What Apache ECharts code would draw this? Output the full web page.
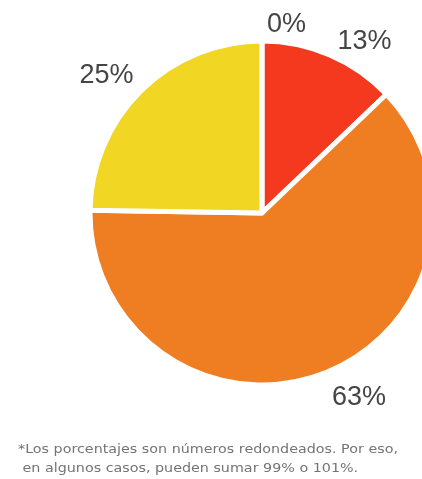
<!DOCTYPE html>
<html>
<head>
<meta charset="utf-8">
<script src="https://cdn.jsdelivr.net/npm/echarts@6/dist/echarts.min.js"></script>
<style>
  html, body { margin: 0; padding: 0; background: #ffffff; }
  #chart { width: 422px; height: 479px; }
</style>
</head>
<body>
<div id="chart"></div>
<script>
// Slice names and rounded percentages, clockwise from 12 o'clock
const categories = ['A', 'B', 'C', 'D'];
const values = [0, 13, 63, 25];
const sliceColors = ['#f5391e', '#f5391e', '#ef7e23', '#f1d624'];
const footnoteLines = [
  '*Los porcentajes son números redondeados. Por eso,',
  ' en algunos casos, pueden sumar 99% o 101%.'
];

// small label nudges (pixels) per slice: [dx, dy]
const labelNudges = [[0, 4], [0, 5], [0, 6], [2, -5]];

const chart = echarts.init(document.getElementById('chart'), null, { renderer: 'canvas' });

const itemOverrides = {
  A: { label: { distanceToLabelLine: 5 } },
  D: { labelLine: { length: 14 } }
};

chart.setOption({
  backgroundColor: '#ffffff',
  animation: false,
  series: [{
    type: 'pie',
    center: [262, 213],
    radius: [0, 172],
    startAngle: 89.999,
    clockwise: true,
    avoidLabelOverlap: false,
    stillShowZeroSum: true,
    itemStyle: { borderColor: '#ffffff', borderWidth: 5 },
    label: {
      show: true,
      position: 'outside',
      formatter: '{c}%',
      fontFamily: 'Liberation Sans, Arial, sans-serif',
      fontSize: 27,
      color: '#454545',
      distanceToLabelLine: 0
    },
    labelLine: { show: false, length: 20, length2: 0 },
    labelLayout: function (params) {
      const n = labelNudges[params.dataIndex] || [0, 0];
      return { dx: n[0], dy: n[1] };
    },
    emphasis: { disabled: true },
    data: categories.map((name, i) => Object.assign({
      name: name,
      value: values[i],
      itemStyle: { color: sliceColors[i] }
    }, itemOverrides[name] || {}))
  }],
  graphic: [{
    type: 'text',
    left: 18,
    top: 440,
    scaleX: 1.1,
    style: {
      text: footnoteLines.join('\n'),
      font: '13px "DejaVu Sans", sans-serif',
      fill: '#747474',
      lineHeight: 19
    }
  }]
});
</script>
</body>
</html>
